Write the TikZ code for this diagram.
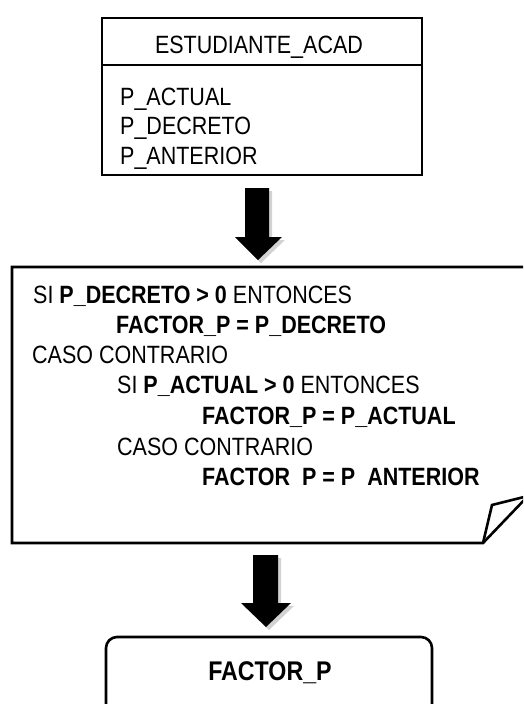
\documentclass[tikz,border=0pt]{standalone}
\usepackage{fontspec}
\setmainfont[FakeStretch=0.86]{Liberation Sans}
\usetikzlibrary{shadows}
\begin{document}
\begin{tikzpicture}[x=1pt,y=-1pt,
  boxline/.style={line width=2.6pt, line join=miter},
  txt/.style={anchor=base west, inner sep=0pt, font=\fontsize{25}{30}\selectfont},
  blockarrow/.style={fill=black, drop shadow={opacity=0.35, shadow xshift=3pt, shadow yshift=-3pt}}]
\clip (0,0) rectangle (523,704);
\fill[white] (0,0) rectangle (523,704);
% top box
\draw[boxline] (102,18) rectangle (422,175);
\draw[boxline] (102,65) -- (422,65);
\node[txt, anchor=base] (hdr) at (259,53) {ESTUDIANTE\_ACAD};
\node[txt] (a1) at (120,105) {P\_ACTUAL};
\node[txt] (a2) at (120,134) {P\_DECRETO};
\node[txt] (a3) at (120,164) {P\_ANTERIOR};
% arrow 1
\fill[blockarrow] (245,188) -- (269,188) -- (269,237) -- (282,237) -- (258,260) -- (235,237) -- (245,237) -- cycle;
% big note box
\draw[boxline] (12,267) -- (535,267) -- (535,493) -- (528,496) -- (483,543) -- (12,543) -- cycle;
\draw[boxline] (483,543) -- (492,505) -- (528,496);
\node[txt] (l1) at (33,303) {SI \textbf{P\_DECRETO > 0} ENTONCES};
\node[txt] (l2) at (116,333) {\textbf{FACTOR\_P = P\_DECRETO}};
\node[txt] (l3) at (32,363) {CASO CONTRARIO};
\node[txt] (l4) at (117,393) {SI \textbf{P\_ACTUAL > 0} ENTONCES};
\node[txt] (l5) at (202,424) {\textbf{FACTOR\_P = P\_ACTUAL}};
\node[txt] (l6) at (117,455) {CASO CONTRARIO};
\node[txt] (l7) at (202,485) {\textbf{FACTOR\phantom{\_}P = P\phantom{\_}ANTERIOR}};
% arrow 2
\fill[blockarrow] (253,555) -- (278,555) -- (278,603) -- (291,603) -- (266,627) -- (241,603) -- (253,603) -- cycle;
% bottom box
\draw[boxline, rounded corners=11pt] (106,637) rectangle (432,720);
\node[txt, anchor=base, font=\fontsize{27}{32}\selectfont\bfseries] (res) at (270,680) {FACTOR\_P};
\end{tikzpicture}
\end{document}
